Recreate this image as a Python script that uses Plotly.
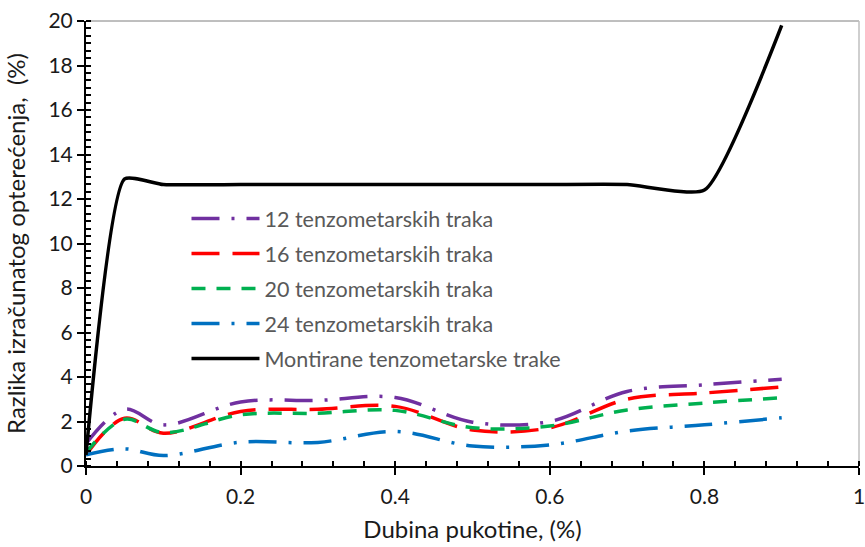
import plotly.graph_objects as go

# crack depth (x) and load difference for each setup (y)
dubina = [0, 0.05, 0.1, 0.2, 0.3, 0.4, 0.5, 0.6, 0.7, 0.8, 0.9]
traka_12 = [1.0, 2.55, 1.85, 2.88, 2.95, 3.08, 1.97, 2.0, 3.35, 3.65, 3.9]
traka_16 = [0.5, 2.15, 1.47, 2.45, 2.55, 2.68, 1.62, 1.72, 3.0, 3.28, 3.55]
traka_20 = [0.6, 2.1, 1.5, 2.3, 2.37, 2.5, 1.72, 1.8, 2.52, 2.83, 3.07]
traka_24 = [0.5, 0.77, 0.47, 1.07, 1.06, 1.55, 0.9, 0.95, 1.57, 1.85, 2.17]
montirane = [0.5, 12.9, 12.65, 12.65, 12.65, 12.65, 12.65, 12.65, 12.65, 12.4, 19.8]

nazivi = ['12 tenzometarskih traka', '16 tenzometarskih traka',
          '20 tenzometarskih traka', '24 tenzometarskih traka',
          'Montirane tenzometarske trake']

FONT = 'Lato'

fig = go.Figure()

# (values, color, dash, smoothing) for each series
serije = [
    (traka_12, '#7030A0', '28px,12px,3px,12px', 1),
    (traka_16, '#FF0000', '28px,13px', 1),
    (traka_20, '#00B050', '14px,11px', 1),
    (traka_24, '#0070C0', '28px,12px,3px,12px', 1),
    (montirane, '#000000', 'solid', 0.5),
]
for i, (naziv, (vals, boja, crta, glatko)) in enumerate(zip(nazivi, serije)):
    fig.add_trace(go.Scatter(
        x=dubina, y=vals, name=naziv, mode='lines', legendgroup=str(i),
        line=dict(color=boja, width=3.5, dash=crta, shape='spline', smoothing=glatko),
    ))

osa = dict(showline=True, linecolor='black', linewidth=2, showgrid=False, automargin=False,
           zeroline=False, ticks='outside', ticklen=7, tickwidth=2, tickcolor='black',
           ticklabeloverflow='allow',
           tickfont=dict(family=FONT, size=21, color='#1a1a1a'))

fig.update_xaxes(osa, range=[0, 1], dtick=0.2, tickformat='~g', ticklabelstandoff=4,
                 minor=dict(dtick=0.04, ticks='inside', ticklen=5, tickwidth=1.5, tickcolor='black'),
                 title=dict(text='Dubina pukotine, (%)', font=dict(family=FONT, size=24, color='#1a1a1a'),
                            standoff=14))
fig.update_yaxes(osa, range=[0, 20], dtick=2,
                 minor=dict(dtick=2 / 6, ticks='inside', ticklen=5, tickwidth=1.5, tickcolor='black'),
                 title=dict(text='Razlika izračunatog opterećenja,\u00a0 (%)',
                            font=dict(family=FONT, size=24, color='#1a1a1a'), standoff=16))

# thin grey frame on top and right of the plot area
fig.add_shape(type='line', xref='paper', yref='paper', x0=0, x1=1, y0=1, y1=1,
              line=dict(color='#7f7f7f', width=1), layer='below')
fig.add_shape(type='line', xref='paper', yref='paper', x0=1, x1=1, y0=0, y1=1,
              line=dict(color='#bfbfbf', width=1.5), layer='below')

fig.update_layout(
    width=865, height=547,
    margin=dict(l=86, r=6, t=21, b=81),
    plot_bgcolor='white', paper_bgcolor='white',
    legend=dict(x=0.13, y=0.602, xanchor='left', yanchor='top',
                font=dict(family=FONT, size=21.5, color='#595959'),
                bgcolor='rgba(0,0,0,0)', itemwidth=68, tracegroupgap=4),
)

# page body has a default 8px margin, drop it so the figure fills the window
fig.write_html('out.html', config={'displayModeBar': False},
               post_script="document.body.style.margin='0px';")
